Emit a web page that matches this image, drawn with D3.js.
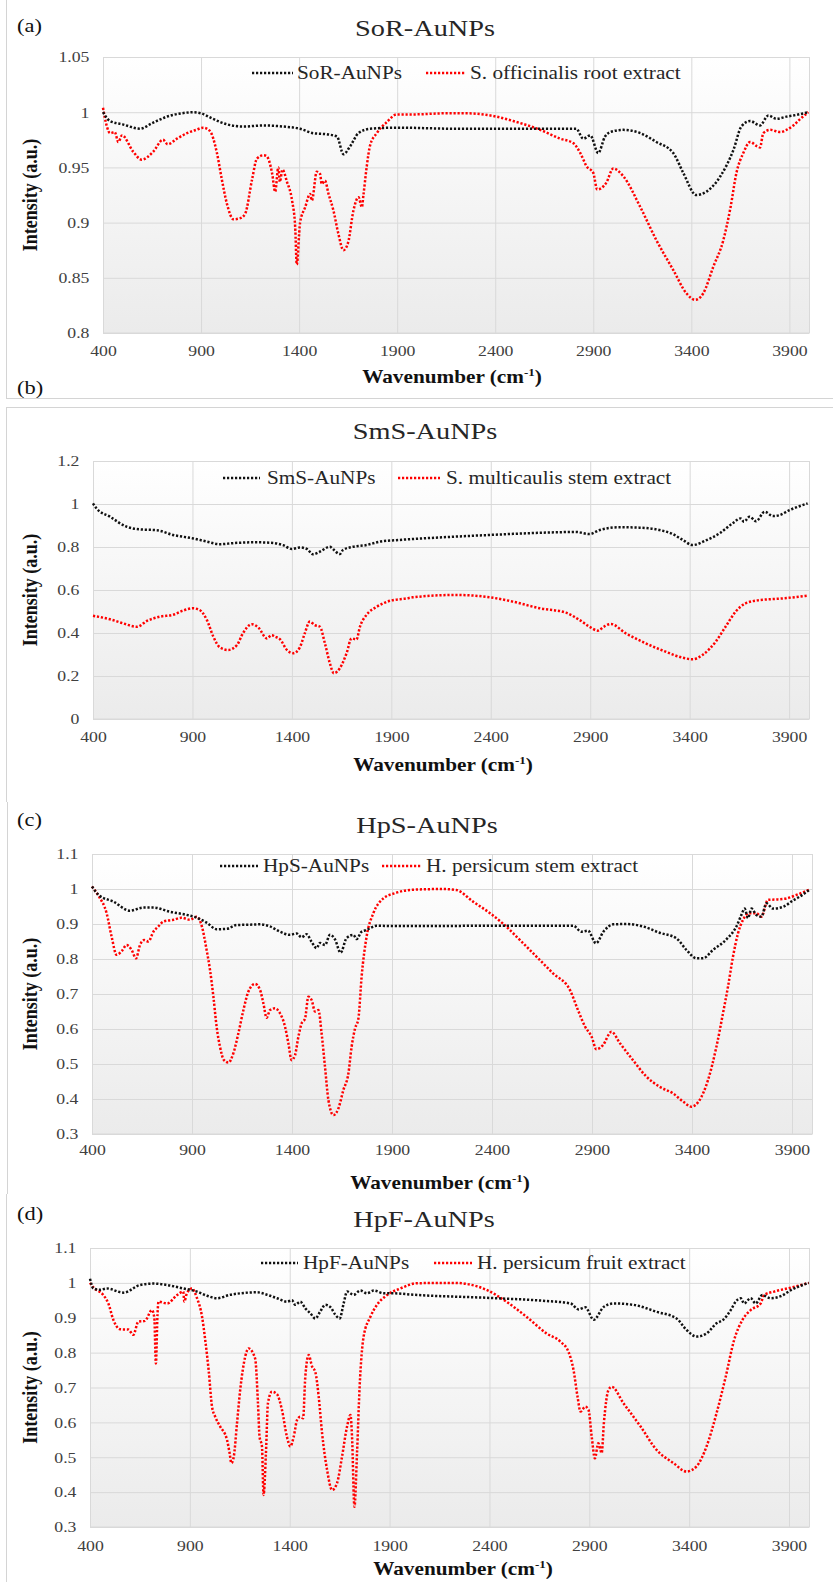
<!DOCTYPE html>
<html>
<head>
<meta charset="utf-8">
<script src="https://cdn.jsdelivr.net/npm/d3@7"></script>
<style>
  body { margin: 0; background: #fff; }
</style>
</head>
<body>
<script>
// FTIR spectra, four panels

// x ticks shared by all panels
var xTicks = [400, 900, 1400, 1900, 2400, 2900, 3400, 3900];
var aYTicks = [0.8, 0.85, 0.9, 0.95, 1, 1.05];
var bYTicks = [0, 0.2, 0.4, 0.6, 0.8, 1, 1.2];
var cdYTicks = [0.3, 0.4, 0.5, 0.6, 0.7, 0.8, 0.9, 1, 1.1];

// (a) [wavenumber, intensity]
var sorAuNPs = [[400,1.0],[436,0.992],[500,0.989],[589,0.985],[650,0.990],[726,0.996],[800,0.999],[860,1.0],[900,0.999],[960,0.994],[1032,0.989],[1115,0.987],[1218,0.988],[1320,0.987],[1405,0.985],[1472,0.981],[1541,0.98],[1593,0.978],[1626,0.962],[1660,0.969],[1702,0.981],[1762,0.985],[1900,0.986],[2200,0.985],[2500,0.985],[2813,0.985],[2849,0.976],[2885,0.979],[2925,0.963],[2960,0.978],[2987,0.982],[3053,0.984],[3140,0.981],[3222,0.973],[3308,0.963],[3359,0.945],[3425,0.925],[3477,0.928],[3548,0.942],[3615,0.966],[3655,0.987],[3700,0.992],[3750,0.988],[3793,0.997],[3834,0.994],[3885,0.996],[3920,0.997],[3997,1.0]];
var soRoot = [[400,1.004],[420,0.987],[436,0.981],[460,0.982],[478,0.973],[497,0.979],[555,0.964],[597,0.957],[655,0.964],[706,0.975],[730,0.971],[777,0.976],[828,0.981],[875,0.984],[911,0.986],[945,0.983],[981,0.963],[1006,0.939],[1032,0.917],[1065,0.903],[1100,0.904],[1125,0.908],[1160,0.939],[1185,0.958],[1218,0.961],[1235,0.960],[1262,0.945],[1278,0.928],[1294,0.950],[1302,0.937],[1315,0.948],[1338,0.937],[1364,0.920],[1380,0.896],[1388,0.862],[1405,0.900],[1431,0.914],[1456,0.926],[1465,0.920],[1490,0.946],[1507,0.944],[1515,0.935],[1532,0.938],[1550,0.926],[1575,0.911],[1600,0.890],[1626,0.875],[1650,0.882],[1677,0.911],[1703,0.923],[1720,0.914],[1728,0.925],[1745,0.951],[1762,0.970],[1796,0.981],[1847,0.991],[1898,0.998],[1982,0.998],[2150,0.999],[2252,0.999],[2405,0.996],[2492,0.992],[2630,0.984],[2732,0.976],[2798,0.972],[2834,0.963],[2866,0.951],[2900,0.945],[2920,0.930],[2966,0.936],[3002,0.949],[3053,0.942],[3140,0.914],[3222,0.884],[3308,0.857],[3375,0.836],[3420,0.830],[3461,0.836],[3512,0.860],[3563,0.884],[3600,0.914],[3630,0.945],[3665,0.963],[3700,0.973],[3736,0.969],[3750,0.968],[3767,0.981],[3803,0.984],[3854,0.982],[3885,0.984],[3920,0.988],[3956,0.994],[3997,1.0]];

// (b)
var smsAuNPs = [[400,1.003],[417,0.98],[485,0.941],[570,0.894],[636,0.882],[721,0.878],[803,0.856],[903,0.840],[973,0.825],[1038,0.813],[1105,0.818],[1206,0.822],[1289,0.820],[1355,0.809],[1400,0.791],[1440,0.798],[1475,0.791],[1506,0.766],[1540,0.778],[1591,0.801],[1608,0.789],[1641,0.767],[1658,0.787],[1707,0.801],[1775,0.809],[1842,0.825],[1943,0.833],[2008,0.837],[2395,0.856],[2676,0.867],[2827,0.870],[2897,0.860],[2948,0.879],[3048,0.892],[3149,0.890],[3249,0.879],[3315,0.860],[3365,0.833],[3415,0.809],[3480,0.830],[3551,0.864],[3616,0.910],[3656,0.933],[3673,0.918],[3701,0.941],[3734,0.920],[3777,0.964],[3819,0.944],[3852,0.948],[3902,0.972],[3935,0.984],[3993,1.003]];
var smStem = [[400,0.480],[485,0.464],[551,0.445],[621,0.429],[671,0.456],[737,0.476],[803,0.485],[852,0.504],[903,0.515],[936,0.507],[973,0.460],[1005,0.383],[1038,0.333],[1080,0.321],[1124,0.344],[1154,0.399],[1199,0.441],[1232,0.425],[1274,0.375],[1299,0.390],[1315,0.383],[1340,0.371],[1375,0.321],[1407,0.306],[1440,0.333],[1465,0.399],[1490,0.453],[1515,0.437],[1541,0.429],[1566,0.352],[1591,0.259],[1611,0.213],[1641,0.236],[1675,0.306],[1700,0.375],[1725,0.370],[1742,0.429],[1775,0.484],[1827,0.522],[1894,0.550],[1978,0.561],[2008,0.566],[2224,0.577],[2395,0.566],[2511,0.546],[2646,0.515],[2777,0.495],[2847,0.460],[2897,0.429],[2938,0.411],[2970,0.430],[3003,0.442],[3078,0.399],[3179,0.352],[3279,0.313],[3365,0.285],[3415,0.278],[3465,0.298],[3531,0.360],[3581,0.430],[3631,0.499],[3681,0.538],[3751,0.553],[3801,0.557],[3868,0.561],[3993,0.574]];

// (c)
var hpsAuNPs = [[400,1.007],[433,0.983],[507,0.964],[590,0.938],[657,0.947],[707,0.947],[790,0.935],[873,0.926],[923,0.918],[973,0.904],[1023,0.885],[1073,0.886],[1123,0.897],[1190,0.898],[1240,0.899],[1290,0.893],[1340,0.878],[1390,0.869],[1423,0.873],[1448,0.862],[1473,0.871],[1498,0.849],[1523,0.831],[1540,0.846],[1565,0.840],[1590,0.869],[1615,0.856],[1643,0.818],[1673,0.860],[1707,0.869],[1723,0.857],[1748,0.878],[1773,0.883],[1823,0.895],[1907,0.894],[2005,0.894],[2422,0.895],[2807,0.895],[2847,0.878],[2880,0.881],[2920,0.845],[2957,0.878],[3007,0.899],[3072,0.900],[3155,0.893],[3238,0.875],[3322,0.859],[3372,0.826],[3422,0.802],[3455,0.802],[3505,0.826],[3572,0.856],[3622,0.893],[3647,0.926],[3663,0.944],[3680,0.917],[3697,0.944],[3722,0.926],[3747,0.921],[3772,0.959],[3805,0.944],[3855,0.949],[3905,0.967],[3938,0.978],[3990,0.999]];
var hpStem = [[400,1.007],[433,0.980],[473,0.931],[498,0.864],[523,0.812],[548,0.822],[573,0.840],[598,0.826],[620,0.802],[640,0.840],[660,0.854],[682,0.850],[707,0.878],[732,0.893],[757,0.907],[807,0.912],[848,0.918],[890,0.912],[923,0.921],[950,0.892],[973,0.826],[990,0.769],[1007,0.692],[1023,0.607],[1040,0.549],[1060,0.511],[1082,0.504],[1107,0.531],[1132,0.588],[1157,0.654],[1182,0.707],[1215,0.729],[1240,0.712],[1257,0.673],[1273,0.632],[1290,0.654],[1315,0.659],[1340,0.645],[1365,0.607],[1382,0.559],[1398,0.511],[1415,0.525],[1432,0.578],[1448,0.616],[1465,0.629],[1482,0.692],[1498,0.683],[1515,0.650],[1532,0.654],[1548,0.588],[1565,0.492],[1582,0.397],[1607,0.354],[1632,0.373],[1657,0.426],[1682,0.473],[1698,0.549],[1715,0.601],[1732,0.630],[1748,0.749],[1773,0.864],[1807,0.931],[1857,0.973],[1915,0.988],[2005,0.998],[2155,1.0],[2222,0.997],[2305,0.964],[2390,0.931],[2457,0.900],[2540,0.854],[2622,0.807],[2705,0.759],[2790,0.711],[2830,0.654],[2865,0.607],[2898,0.578],[2922,0.542],[2955,0.554],[2997,0.592],[3040,0.559],[3105,0.511],[3172,0.464],[3238,0.435],[3305,0.416],[3357,0.392],[3397,0.378],[3438,0.397],[3480,0.454],[3522,0.549],[3555,0.645],[3580,0.721],[3605,0.807],[3630,0.873],[3655,0.912],[3688,0.931],[3722,0.931],[3747,0.921],[3780,0.969],[3822,0.970],[3872,0.973],[3922,0.983],[3990,0.999]];

// (d)
var hpfAuNPs = [[400,1.012],[417,0.984],[450,0.980],[484,0.984],[567,0.972],[651,0.994],[717,0.998],[784,0.994],[867,0.984],[936,0.975],[986,0.963],[1036,0.956],[1103,0.966],[1152,0.970],[1236,0.973],[1286,0.966],[1336,0.956],[1386,0.946],[1411,0.950],[1428,0.937],[1453,0.946],[1478,0.927],[1503,0.913],[1528,0.898],[1553,0.918],[1578,0.937],[1603,0.931],[1628,0.909],[1650,0.898],[1670,0.941],[1687,0.975],[1720,0.966],[1754,0.978],[1787,0.970],[1821,0.978],[1871,0.970],[1921,0.970],[2018,0.966],[2435,0.956],[2686,0.948],[2806,0.941],[2846,0.924],[2880,0.930],[2922,0.894],[2972,0.931],[3022,0.941],[3122,0.937],[3237,0.917],[3337,0.898],[3387,0.865],[3437,0.846],[3487,0.855],[3537,0.884],[3570,0.894],[3608,0.922],[3633,0.946],[3658,0.956],[3675,0.941],[3708,0.956],[3733,0.941],[3766,0.965],[3808,0.956],[3859,0.962],[3909,0.979],[3999,1.0]];
var hpFruit = [[400,1.0],[417,0.987],[467,0.965],[492,0.941],[517,0.894],[550,0.867],[592,0.866],[617,0.851],[642,0.889],[675,0.891],[710,0.922],[722,0.900],[730,0.769],[738,0.910],[743,0.946],[786,0.941],[836,0.965],[867,0.975],[872,0.946],[885,0.970],[910,0.984],[936,0.956],[961,0.903],[977,0.836],[994,0.750],[1011,0.645],[1027,0.616],[1052,0.588],[1086,0.550],[1099,0.512],[1108,0.483],[1120,0.502],[1136,0.597],[1152,0.693],[1177,0.788],[1194,0.812],[1227,0.783],[1241,0.655],[1249,0.559],[1261,0.531],[1269,0.392],[1281,0.512],[1291,0.655],[1311,0.688],[1336,0.681],[1361,0.636],[1386,0.559],[1403,0.531],[1420,0.559],[1437,0.607],[1453,0.616],[1467,0.612],[1478,0.731],[1495,0.793],[1512,0.760],[1528,0.745],[1545,0.674],[1562,0.569],[1587,0.464],[1612,0.406],[1637,0.426],[1662,0.502],[1687,0.588],[1704,0.621],[1712,0.559],[1724,0.358],[1737,0.512],[1750,0.702],[1770,0.846],[1804,0.903],[1837,0.937],[1887,0.965],[1954,0.984],[2038,0.999],[2220,1.0],[2285,0.997],[2385,0.980],[2485,0.946],[2585,0.903],[2686,0.855],[2756,0.831],[2796,0.802],[2821,0.750],[2841,0.674],[2856,0.631],[2880,0.645],[2896,0.636],[2912,0.559],[2928,0.497],[2945,0.540],[2962,0.512],[2973,0.598],[2996,0.693],[3012,0.702],[3071,0.655],[3157,0.588],[3237,0.521],[3322,0.483],[3387,0.459],[3437,0.474],[3487,0.531],[3537,0.626],[3583,0.731],[3625,0.836],[3667,0.894],[3708,0.922],[3758,0.941],[3775,0.965],[3825,0.975],[3892,0.984],[3999,1.0]];

var SX = 1.18; // the original picture is stretched sideways
var FONT = "'Liberation Serif','Times New Roman',serif";
var colors = ["#111", "#ff0000"];

var panels = [
  {tag:"(a)", title:"SoR-AuNPs", series:[sorAuNPs, soRoot], names:["SoR-AuNPs","S. officinalis root extract"],
   yTicks:aYTicks, left:103, right:809, top:57, bottom:333, titleX:425, titleY:36, tagY:32,
   legY:73, leg:[252,293,297,426,465,470], xPad:12.5, xTitleX:452, xTitleY:383},
  {tag:"(b)", title:"SmS-AuNPs", series:[smsAuNPs, smStem], names:["SmS-AuNPs","S. multicaulis stem extract"],
   yTicks:bYTicks, left:93, right:809, top:461, bottom:719, titleX:425, titleY:439, tagY:394,
   legY:478, leg:[223,260,267,398,440,446], xPad:12.5, xTitleX:443, xTitleY:771},
  {tag:"(c)", title:"HpS-AuNPs", series:[hpsAuNPs, hpStem], names:["HpS-AuNPs","H. persicum stem extract"],
   yTicks:cdYTicks, left:92, right:812, top:854, bottom:1134, titleX:427, titleY:833, tagY:826,
   legY:866, leg:[220,258,263,382,421,426], xPad:10.5, xTitleX:440, xTitleY:1189},
  {tag:"(d)", title:"HpF-AuNPs", series:[hpfAuNPs, hpFruit], names:["HpF-AuNPs","H. persicum fruit extract"],
   yTicks:cdYTicks, left:90, right:809, top:1248, bottom:1527, titleX:424, titleY:1227, tagY:1220,
   legY:1263, leg:[261,298,303,434,472,477], xPad:13.5, xTitleX:463, xTitleY:1575}
];

var svg = d3.select("body").append("svg")
    .attr("width", 833)
    .attr("height", 1582);

var grad = svg.append("defs").append("linearGradient")
    .attr("id", "plotbg").attr("x1", 0).attr("y1", 0).attr("x2", 0).attr("y2", 1);
grad.append("stop").attr("offset", "0%").attr("stop-color", "#ffffff");
grad.append("stop").attr("offset", "100%").attr("stop-color", "#ebebeb");

// thin frames around the panels
var frames = [[6.5,0,6.5,398],[6,398.5,833,398.5],[6,407.5,833,407.5],[6.5,407,6.5,802],[7.5,802,7.5,1194],[6.5,1194,6.5,1582]];
svg.selectAll(".frame").data(frames).enter().append("line")
    .attr("class", "frame")
    .attr("x1", function(d) { return d[0]; }).attr("y1", function(d) { return d[1]; })
    .attr("x2", function(d) { return d[2]; }).attr("y2", function(d) { return d[3]; })
    .attr("stroke", "#d4d4d4").attr("stroke-width", 1);

function addText(sel, x, y, str, o) {
  o = o || {};
  return sel.append("text")
    .attr("transform", "translate(" + x + "," + y + ") scale(" + SX + ",1)" + (o.rot ? " rotate(-90)" : ""))
    .attr("font-family", FONT)
    .attr("font-size", o.size || 15)
    .attr("font-weight", o.bold ? "bold" : null)
    .attr("text-anchor", o.anchor || "start")
    .attr("fill", o.color || "#404040")
    .text(str);
}

function fmt(d) { return String(+d.toFixed(2)); }

panels.forEach(function(p) {
  var g = svg.append("g");
  var w = p.right - p.left, h = p.bottom - p.top;
  var yt = p.yTicks;

  var x = d3.scaleLinear().domain([400, 4000]).range([p.left, p.right]);
  var y = d3.scaleLinear().domain([yt[0], yt[yt.length - 1]]).range([p.bottom, p.top]);

  g.append("rect")
    .attr("x", p.left).attr("y", p.top).attr("width", w).attr("height", h)
    .attr("fill", "url(#plotbg)");

  // y grid + labels
  var gy = g.append("g").attr("transform", "translate(" + p.left + ",0)")
    .call(d3.axisLeft(y).tickValues(yt).tickSize(-w).tickPadding(16 / SX).tickFormat(fmt));
  gy.select(".domain").remove();
  gy.selectAll("line").attr("stroke", "#d9d9d9");

  // x grid + labels
  var gx = g.append("g").attr("transform", "translate(0," + p.bottom + ")")
    .call(d3.axisBottom(x).tickValues(xTicks).tickSize(-h).tickPadding(p.xPad).tickFormat(d3.format("d")));
  gx.select(".domain").remove();
  gx.selectAll("line").attr("stroke", "#d9d9d9");

  g.selectAll(".tick text")
    .attr("font-family", FONT).attr("font-size", 15).attr("fill", "#404040")
    .attr("transform", "scale(" + SX + ",1)");
  gy.selectAll(".tick text").attr("x", -16 / SX / SX);

  g.append("rect")
    .attr("x", p.left + 0.5).attr("y", p.top + 0.5).attr("width", w).attr("height", h - 0.5)
    .attr("fill", "none").attr("stroke", "#d9d9d9");

  // spectra
  var line = d3.line()
    .x(function(d) { return x(d[0]); })
    .y(function(d) { return y(d[1]); })
    .curve(d3.curveMonotoneX);

  g.selectAll(".spec").data([p.series[1], p.series[0]]).enter().append("path")
    .attr("class", "spec")
    .attr("d", line)
    .attr("fill", "none")
    .attr("stroke", function(d, i) { return i === 0 ? colors[1] : colors[0]; })
    .attr("stroke-width", 2.5)
    .attr("stroke-dasharray", "2.2,1.8");

  // legend
  [0, 1].forEach(function(i) {
    var x1 = p.leg[i * 3], x2 = p.leg[i * 3 + 1], tx = p.leg[i * 3 + 2];
    g.append("line")
      .attr("x1", x1).attr("x2", x2).attr("y1", p.legY).attr("y2", p.legY)
      .attr("stroke", colors[i]).attr("stroke-width", 2.5).attr("stroke-dasharray", "2.2,1.8");
    addText(g, tx, p.legY + 5.5, p.names[i], {size: 18, color: "#262626"});
  });

  // titles
  addText(g, p.titleX, p.titleY, p.title, {size: 24, anchor: "middle", color: "#262626"});
  addText(g, 17, p.tagY, p.tag, {size: 19, color: "#111"});
  addText(g, 37, (p.top + p.bottom) / 2, "Intensity (a.u.)", {size: 18, bold: true, anchor: "middle", rot: true, color: "#111"});

  var xt = addText(g, p.xTitleX, p.xTitleY, "", {size: 18, bold: true, anchor: "middle", color: "#111"});
  xt.append("tspan").text("Wavenumber (cm");
  xt.append("tspan").attr("dy", -7).attr("font-size", 11).text("-1");
  xt.append("tspan").attr("dy", 7).text(")");
});
</script>
</body>
</html>
